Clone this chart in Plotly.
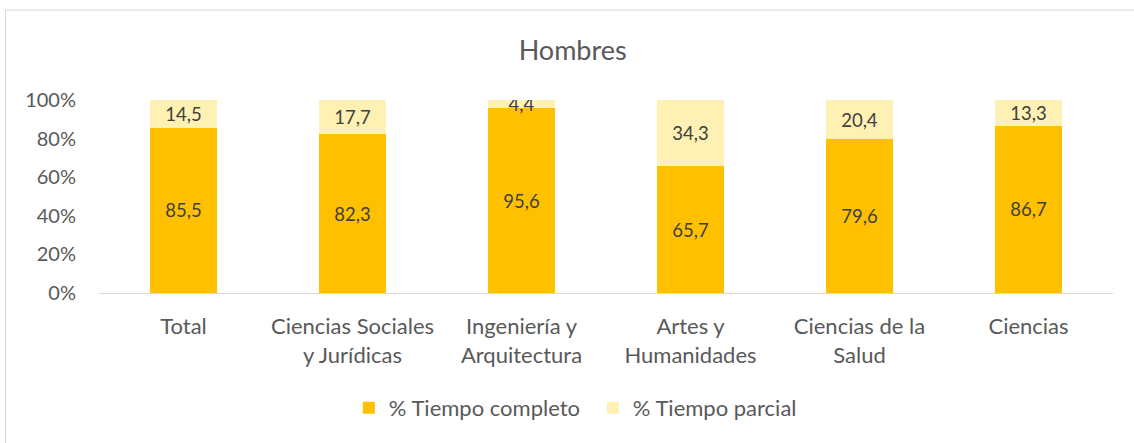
import plotly.graph_objects as go

categories = ["Total", "Ciencias Sociales<br>y Jurídicas", "Ingeniería y<br>Arquitectura",
              "Artes y<br>Humanidades", "Ciencias de la<br>Salud", "Ciencias"]
completo = [85.5, 82.3, 95.6, 65.7, 79.6, 86.7]
parcial = [14.5, 17.7, 4.4, 34.3, 20.4, 13.3]
tick_vals = [0, 20, 40, 60, 80, 100]
tick_text = ["0%", "20%", "40%", "60%", "80%", "100%"]

FONT = "Lato"

def fmt(v):
    return f"{v:.1f}".replace(".", ",")

fig = go.Figure()
fig.add_trace(go.Bar(
    x=categories, y=completo, name="% Tiempo completo",
    marker=dict(color="#FFC000", line=dict(width=0)),
    text=[fmt(v) for v in completo], textposition="inside", insidetextanchor="middle",
    textfont=dict(color="#404040", size=18.5, family=FONT), constraintext="none",
))
fig.add_trace(go.Bar(
    x=categories, y=parcial, name="% Tiempo parcial",
    marker=dict(color="#FFF0B3", line=dict(width=0)),
    text=[fmt(v) for v in parcial], textposition="inside", insidetextanchor="middle",
    textfont=dict(color="#404040", size=18.5, family=FONT), constraintext="none",
))

fig.update_layout(
    barmode="stack", bargap=0.6,
    width=1134, height=443,
    margin=dict(l=99, r=21, t=100, b=150),
    paper_bgcolor="white", plot_bgcolor="white",
    font=dict(family=FONT, color="#595959", size=20),
    title=dict(text="Hombres", x=0.505, xanchor="center", y=0.887, yanchor="middle",
               font=dict(size=27, color="#595959", family=FONT)),
    legend=dict(orientation="h", x=0.487, xanchor="center", y=-0.596, yanchor="middle",
                font=dict(size=22, color="#595959", family=FONT), traceorder="normal",
                entrywidth=199, entrywidthmode="pixels"),
    shapes=[dict(type="rect", xref="paper", yref="paper",
                 x0=-0.0922, x1=1.03, y0=-0.82, y1=1.466,
                 line=dict(color="#D9D9D9", width=1), fillcolor="rgba(0,0,0,0)", layer="below")],
)
fig.update_xaxes(showline=True, linecolor="#D9D9D9", linewidth=1, showgrid=False,
                 ticks="", ticklabelstandoff=14, tickfont=dict(size=22, color="#595959"))
fig.update_yaxes(range=[0, 100], tickvals=tick_vals, ticktext=tick_text, showgrid=False,
                 showline=False, zeroline=False, ticks="", ticklen=0, ticklabelstandoff=22,
                 tickfont=dict(size=20, color="#595959"))

fig.write_html("out.html", config={"displayModeBar": False})

with open("out.html", "r", encoding="utf-8") as f:
    html = f.read()
html = html.replace("<head>", "<head><style>html,body{margin:0;padding:0;overflow:hidden;}</style>", 1)
with open("out.html", "w", encoding="utf-8") as f:
    f.write(html)
